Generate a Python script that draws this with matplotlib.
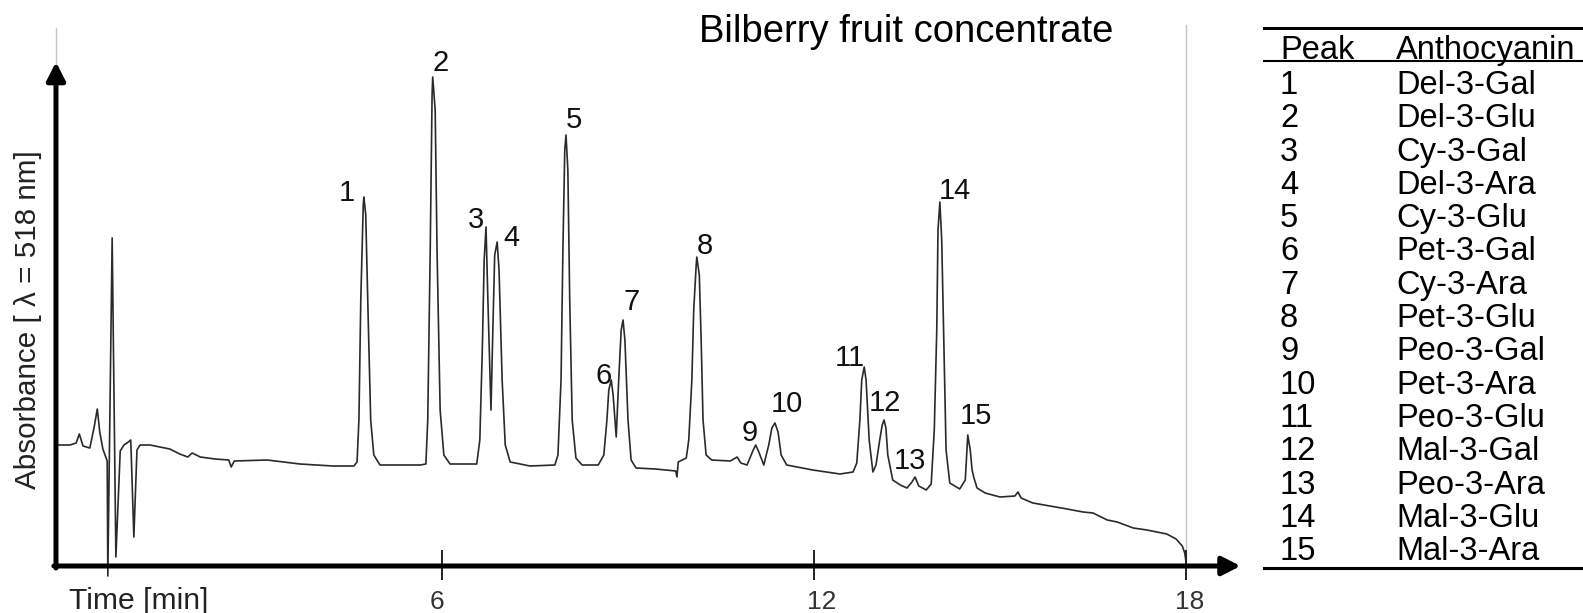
import numpy as np
import matplotlib.pyplot as plt

plt.rcParams['font.family'] = ['Liberation Sans', 'DejaVu Sans']

# ---- chromatogram trace (time in min, signal in a.u.) ----
time_min = [
    -0.23, 0.00, 0.10, 0.15, 0.21, 0.32, 0.39, 0.44, 0.48, 0.53, 0.60, 0.61,
    0.68, 0.74, 0.81, 0.87, 0.92, 0.98, 1.03, 1.08, 1.13, 1.29, 1.45, 1.61,
    1.77, 1.90, 1.97, 2.10, 2.34, 2.56, 2.60, 2.65, 3.18, 3.71, 4.24, 4.58,
    4.63, 4.66, 4.69, 4.73, 4.74, 4.77, 4.81, 4.85, 4.90, 5.00, 5.32, 5.65,
    5.74, 5.77, 5.81, 5.84, 5.85, 5.89, 5.92, 5.97, 6.03, 6.13, 6.45, 6.56,
    6.61, 6.65, 6.68, 6.71, 6.74, 6.79, 6.82, 6.85, 6.89, 6.92, 6.97, 7.02,
    7.10, 7.42, 7.82, 7.87, 7.92, 7.95, 7.98, 8.00, 8.03, 8.06, 8.10, 8.16,
    8.26, 8.52, 8.61, 8.66, 8.69, 8.73, 8.76, 8.81, 8.85, 8.89, 8.92, 8.95,
    9.00, 9.05, 9.13, 9.44, 9.77, 9.79, 9.81, 9.94, 9.98, 10.03, 10.06, 10.10,
    10.11, 10.15, 10.18, 10.21, 10.26, 10.35, 10.65, 10.76, 10.82, 10.92, 11.02, 11.06,
    11.11, 11.19, 11.27, 11.32, 11.37, 11.42, 11.47, 11.56, 11.98, 12.42, 12.63, 12.69,
    12.74, 12.77, 12.81, 12.84, 12.89, 12.95, 13.00, 13.06, 13.10, 13.13, 13.16, 13.19,
    13.27, 13.39, 13.50, 13.58, 13.63, 13.69, 13.81, 13.89, 13.94, 13.98, 14.00, 14.03,
    14.06, 14.10, 14.13, 14.19, 14.35, 14.44, 14.47, 14.48, 14.52, 14.55, 14.58, 14.63,
    14.76, 15.00, 15.24, 15.29, 15.34, 15.53, 15.81, 16.08, 16.34, 16.50, 16.73, 16.89,
    17.15, 17.37, 17.69, 17.84, 17.94, 17.98, 18.00,
]
signal = [
    24.2, 24.2, 24.6, 26.4, 24.0, 23.6, 27.8, 31.4, 26.8, 23.4, 21.0, -2.0,
    65.6, 1.8, 23.0, 24.2, 24.6, 25.2, 5.8, 23.2, 24.2, 24.2, 23.8, 23.4,
    22.4, 21.8, 22.6, 21.8, 21.4, 21.2, 19.8, 21.0, 21.2, 20.4, 20.0, 20.0,
    20.8, 29.2, 53.2, 72.2, 73.8, 70.2, 49.2, 29.2, 22.2, 20.2, 20.2, 20.2,
    20.4, 29.2, 63.2, 94.2, 97.8, 91.2, 63.2, 31.2, 22.2, 20.4, 20.4, 20.4,
    25.2, 43.2, 61.2, 67.8, 53.2, 31.2, 47.2, 62.2, 64.8, 59.2, 37.2, 24.2,
    20.8, 20.0, 20.2, 22.2, 37.2, 63.2, 83.2, 86.2, 79.2, 53.2, 29.2, 21.6,
    20.2, 20.2, 22.2, 29.2, 35.2, 37.2, 34.2, 25.8, 37.2, 47.2, 49.2, 45.2,
    29.2, 21.2, 19.6, 19.4, 19.0, 17.8, 20.8, 21.6, 25.2, 37.2, 51.2, 60.2,
    61.8, 58.2, 45.2, 29.2, 22.2, 21.2, 21.0, 21.8, 20.6, 20.2, 23.2, 24.2,
    22.8, 20.2, 24.2, 27.6, 28.6, 26.8, 22.2, 20.2, 19.2, 18.4, 18.8, 20.6,
    29.2, 37.2, 39.8, 37.2, 25.2, 18.8, 20.2, 25.2, 28.2, 29.2, 27.6, 22.2,
    17.2, 16.2, 15.6, 16.8, 17.8, 16.0, 15.2, 16.4, 27.2, 47.2, 67.2, 72.8,
    65.2, 41.2, 23.2, 16.6, 15.4, 17.2, 24.2, 26.2, 23.2, 19.2, 17.6, 15.6,
    14.6, 13.8, 14.0, 14.8, 13.6, 12.6, 12.0, 11.4, 10.8, 10.6, 9.2, 8.8,
    7.6, 7.2, 6.4, 5.4, 4.0, 2.6, 0.8,
]

peak_ids = list(range(1, 16))
peak_times = [4.74, 5.85, 6.71, 6.89, 8.00, 8.73, 8.92, 10.11,
              11.06, 11.37, 12.81, 13.13, 13.63, 14.03, 14.48]
anthocyanins = ['Del-3-Gal', 'Del-3-Glu', 'Cy-3-Gal', 'Del-3-Ara', 'Cy-3-Glu',
                'Pet-3-Gal', 'Cy-3-Ara', 'Pet-3-Glu', 'Peo-3-Gal', 'Pet-3-Ara',
                'Peo-3-Glu', 'Mal-3-Gal', 'Peo-3-Ara', 'Mal-3-Glu', 'Mal-3-Ara']
x_ticks = [6, 12, 18]

# label offsets from the peak apex (pixels)
label_offsets = [(-17, 7), (8, 17), (-10, 10), (14, 7), (8, 18), (-8, 7), (9, 21),
                 (8, 14), (-6, 15), (12, 22), (-14, 12), (1, 20), (-5, 19),
                 (15, 14), (8, 22)]
tick_label_dx = [-5, 8, 4]

W, H = 1583, 613
X0, PX_MIN = 70, 62.0      # pixel of t=0, pixels per minute
Y0, PX_UNIT = 566, 5.0     # pixel row of signal=0, pixels per unit


def fx(px):
    return px / W


def fy(py):
    return 1 - py / H


fig = plt.figure(figsize=(W / 100, H / 100), dpi=100)
ax = fig.add_axes([0, 0, 1, 1])
ax.set_xlim(-X0 / PX_MIN, (W - X0) / PX_MIN)
ax.set_ylim(-(H - Y0) / PX_UNIT, Y0 / PX_UNIT)
ax.axis('off')

# faint frame lines left over from the instrument plot
ax.plot([-0.226, -0.226], [85, 107.6], color='#c4c4c4', lw=1.0)
ax.plot([18, 18], [0, 108.2], color='#c4c4c4', lw=1.0)

ax.plot(time_min, signal, color='#2a2a2a', lw=1.2, solid_joinstyle='round')

# axes with arrow heads
arrow = dict(arrowstyle='-|>,head_length=0.55,head_width=0.28', lw=3.6,
             color='black', mutation_scale=20, shrinkA=0, shrinkB=0)
ax.annotate('', xy=(18.88, 0), xytext=(-0.26, 0), arrowprops=arrow)
ax.annotate('', xy=(-0.226, 100.8), xytext=(-0.226, -0.4), arrowprops=arrow)

ax.vlines(x_ticks, -2.8, 3.2, color='#222', lw=1.4)
for t, dx in zip(x_ticks, tick_label_dx):
    ax.annotate(str(t), (t, -7.2), xytext=(dx, 0), textcoords='offset pixels',
                ha='center', va='center', fontsize=19, color='#333')

for pid, pt, (dx, dy) in zip(peak_ids, peak_times, label_offsets):
    h = np.interp(pt, time_min, signal)
    ax.annotate(str(pid), (pt, h), xytext=(dx, dy - 11), textcoords='offset pixels',
                ha='center', va='baseline', fontsize=21, color='#111')

fig.text(fx(69), fy(601), 'Time [min]', ha='left', va='center', fontsize=21.7, color='#222')
fig.text(fx(28), fy(320), 'Absorbance [ λ = 518 nm]', rotation=90,
         ha='center', va='center', fontsize=21.3, color='#222')
fig.text(fx(906), fy(42), 'Bilberry fruit concentrate', ha='center', va='baseline',
         fontsize=27.5, color='black')

# peak table
col1, col2 = 1280, 1396
fs_tab = 23.5
fig.text(fx(col1), fy(59), 'Peak', fontsize=fs_tab, va='baseline')
fig.text(fx(col2), fy(59), 'Anthocyanin', fontsize=fs_tab, va='baseline')
for i, (pid, name) in enumerate(zip(peak_ids, anthocyanins)):
    yb = 94 + 33.3 * i
    fig.text(fx(col1), fy(yb), str(pid), fontsize=fs_tab, va='baseline')
    fig.text(fx(col2), fy(yb), name, fontsize=fs_tab, va='baseline')
for py, lw in [(27.5, 2.2), (60.5, 1.5), (568, 2.2)]:
    fig.add_artist(plt.Line2D([fx(1264), 1], [fy(py), fy(py)], color='black', lw=lw))

fig.savefig('out.png', dpi=100)
